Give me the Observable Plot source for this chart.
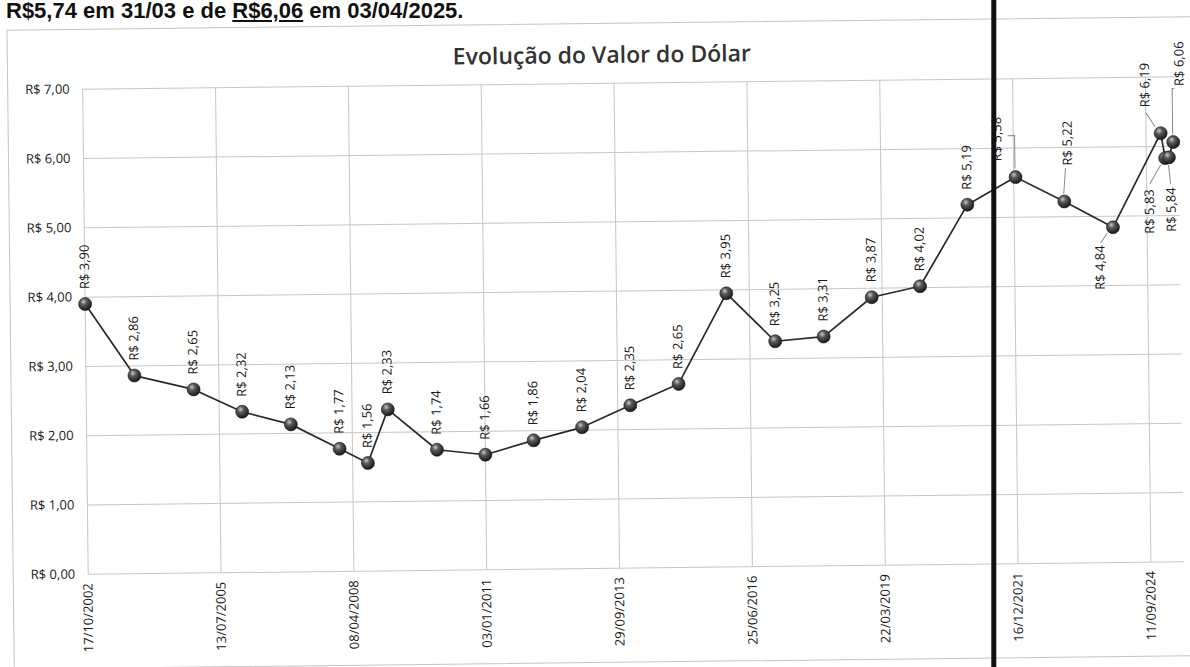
<!DOCTYPE html>
<html>
<head>
<meta charset="utf-8">
<script src="https://cdn.jsdelivr.net/npm/d3@7"></script>
<script src="https://cdn.jsdelivr.net/npm/@observablehq/plot@0.6"></script>
<style>
  html, body { margin: 0; padding: 0; background: #fff; width: 1190px; height: 667px; overflow: hidden; }
  #page { position: relative; width: 1190px; height: 667px; }
  #headline { position: absolute; left: 6px; top: 0px; font: bold 22px/22px "Liberation Sans", Arial, sans-serif; color: #111; white-space: nowrap; }
  #headline u { text-decoration-thickness: 2px; text-underline-offset: 2px; }
  #chart { position: absolute; left: 0; top: 0; width: 1190px; height: 667px; transform: rotate(-0.65deg); transform-origin: 595px 333.5px; }
  #box { position: absolute; left: 10px; top: 23px; width: 1200px; height: 638px; border: 1px solid #c4c4c4; }
  #title { position: absolute; left: 0; top: 43px; width: 1210px; text-align: center; font: 600 23px/23px "Open Sans", sans-serif; color: #333; }
  #plot { position: absolute; left: 0; top: 0; }
</style>
</head>
<body>
<div id="page">
  <div id="headline">R$5,74 em 31/03 e de <u>R$6,06</u> em 03/04/2025.</div>
  <div id="chart">
    <div id="box"></div>
    <div id="title">Evolução do Valor do Dólar</div>
    <div id="plot"></div>
  </div>
</div>
<script>
// ---- data ----
const dates = ["2002-10-17","2003-10-17","2005-01-03","2006-01-02","2007-01-02","2008-01-02","2008-08-01","2009-01-02","2010-01-04","2011-01-03","2012-01-02","2013-01-02","2014-01-02","2015-01-02","2016-01-04","2017-01-02","2018-01-02","2019-01-02","2020-01-02","2020-12-30","2021-12-30","2022-12-30","2023-12-29","2024-12-30","2025-01-31","2025-02-28","2025-04-03"];
const values = [3.90,2.86,2.65,2.32,2.13,1.77,1.56,2.33,1.74,1.66,1.86,2.04,2.35,2.65,3.95,3.25,3.31,3.87,4.02,5.19,5.58,5.22,4.84,6.19,5.83,5.84,6.06];
const xTickLabels = ["17/10/2002","13/07/2005","08/04/2008","03/01/2011","29/09/2013","25/06/2016","22/03/2019","16/12/2021","11/09/2024"];
const yTickValues = [0,1,2,3,4,5,6,7];
const yTickLabels = ["R$ 0,00","R$ 1,00","R$ 2,00","R$ 3,00","R$ 4,00","R$ 5,00","R$ 6,00","R$ 7,00"];
const xDomain = ["2002-10-17","2025-05-19"];
const markerDate = "2021-07-10";

// ---- label placement (style config) ----
const labelSpecial = [
  {i: 20, dx: -18, dy: -16, anchor: "start", leader: [[-7,-41],[0,-41],[0,-8]]},
  {i: 21, dx: 4,   dy: -36, anchor: "start", leader: [[2,-33],[0,-7]]},
  {i: 22, dx: -13, dy: 18,  anchor: "end",   leader: [[-12,16],[-5,6]]},
  {i: 23, dx: -15, dy: -26, anchor: "start", leader: [[-14,-20],[-5,-6]]},
  {i: 24, dx: -16, dy: 31,  anchor: "end",   leader: [[-15,26],[-4,7]]},
  {i: 25, dx: 2,   dy: 30,  anchor: "end",   leader: [[2,27],[0,8]]},
  {i: 26, dx: 7,   dy: -56, anchor: "start", leader: [[2,-53],[0,-53],[0,-7]]}
];

const parseISO = d3.utcParse("%Y-%m-%d");
const parseBR = d3.utcParse("%d/%m/%Y");
const rows = dates.map((d, i) => ({date: parseISO(d), value: values[i], i}));
const xTicks = xTickLabels.map(parseBR);
const fmtBR = v => "R$ " + v.toFixed(2).replace(".", ",");
const specialIdx = new Set(labelSpecial.map(s => s.i));
const ns = "http://www.w3.org/2000/svg";
const FONT = "'Open Sans', sans-serif";

function defsMark() {
  const defs = document.createElementNS(ns, "defs");
  defs.innerHTML = `<radialGradient id="sphere" cx="38%" cy="32%" r="70%">
      <stop offset="0%" stop-color="#c8c8c8"/>
      <stop offset="35%" stop-color="#5a5a5a"/>
      <stop offset="100%" stop-color="#151515"/>
    </radialGradient>`;
  return defs;
}

function leaderMark(index, scales) {
  const g = document.createElementNS(ns, "g");
  for (const s of labelSpecial) {
    const px = scales.x(rows[s.i].date), py = scales.y(rows[s.i].value);
    const pl = document.createElementNS(ns, "polyline");
    pl.setAttribute("points", s.leader.map(([a, b]) => `${px + a},${py + b}`).join(" "));
    pl.setAttribute("fill", "none");
    pl.setAttribute("stroke", "#8a8a8a");
    pl.setAttribute("stroke-width", "1");
    g.appendChild(pl);
  }
  return g;
}

function markerMark(index, scales, values, dims) {
  const xm = scales.x(parseISO(markerDate));
  const cy = dims.height / 2;
  const line = document.createElementNS(ns, "line");
  line.setAttribute("x1", xm); line.setAttribute("x2", xm);
  line.setAttribute("y1", -30); line.setAttribute("y2", dims.height + 30);
  line.setAttribute("stroke", "#111");
  line.setAttribute("stroke-width", "5");
  line.setAttribute("transform", `rotate(0.65 ${xm} ${cy})`);
  return line;
}

const chart = Plot.plot({
  width: 1190,
  height: 667,
  marginLeft: 85,
  marginRight: 9,
  marginTop: 83,
  marginBottom: 99,
  style: {background: "none", overflow: "visible", maxWidth: "none", fontFamily: FONT, fontSize: "13px", color: "#1a1a1a"},
  x: {type: "utc", domain: xDomain.map(parseISO), ticks: xTicks, tickFormat: d3.utcFormat("%d/%m/%Y"), tickRotate: -90, tickSize: 0, tickPadding: 9, label: null},
  y: {domain: [0, 7], ticks: yTickValues, tickFormat: v => yTickLabels[yTickValues.indexOf(v)], tickSize: 0, tickPadding: 13, label: null},
  marks: [
    defsMark,
    Plot.ruleX(xTicks, {stroke: "#c6c6c6", strokeWidth: 1}),
    Plot.ruleY(yTickValues, {stroke: "#c6c6c6", strokeWidth: 1}),
    Plot.line(rows, {x: "date", y: "value", stroke: "#2a2a2a", strokeWidth: 1.7}),
    Plot.dot(rows, {x: "date", y: "value", r: 6.5, fill: "url(#sphere)", stroke: "#1a1a1a", strokeWidth: 0.6}),
    Plot.text(rows.filter(r => !specialIdx.has(r.i)), {x: "date", y: "value", text: d => fmtBR(d.value), rotate: -90, textAnchor: "start", lineAnchor: "middle", dy: -15, fontSize: 13, fontFamily: FONT, fill: "#1a1a1a"}),
    ...labelSpecial.map(s => Plot.text([rows[s.i]], {x: "date", y: "value", text: d => fmtBR(d.value), rotate: -90, textAnchor: s.anchor, lineAnchor: "middle", dx: s.dx, dy: s.dy, fontSize: 13, fontFamily: FONT, fill: "#1a1a1a"})),
    leaderMark,
    markerMark
  ]
});
document.getElementById("plot").appendChild(chart);
</script>
</body>
</html>
